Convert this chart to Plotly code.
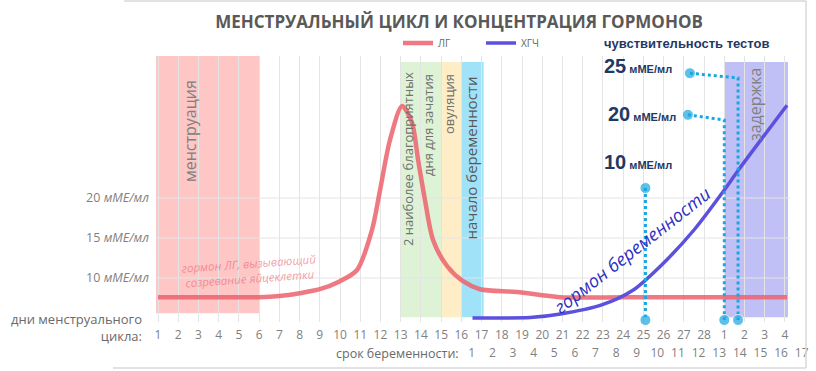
import plotly.graph_objects as go

# ---------------- data ----------------
day_ticks = list(range(1, 33))
day_labels = [str(d) for d in range(1, 29)] + ["1", "2", "3", "4"]
week_ticks = list(range(1, 18))
week_labels = [str(w) for w in week_ticks]

lh_x = [1, 2, 3, 4, 5, 6, 7, 8, 9, 10, 10.84, 11.58, 11.98, 12.47, 13.07, 13.56, 13.86, 14.2, 14.6,
        15.29, 16.08, 16.92, 18.75, 20.88, 24, 28, 32.1]
lh_y = [7.6, 7.6, 7.6, 7.6, 7.6, 7.6, 7.75, 8.1, 8.6, 9.6, 11.0, 16.0, 21.0, 27.25, 31.5, 29.4, 24.75, 19.75, 14.75,
        11.5, 9.6, 8.6, 8.25, 7.6, 7.6, 7.6, 7.6]

hcg_x = [16.55, 18.0, 19.4, 20.9, 22.9, 24.5, 25.85, 27.5, 29.0, 29.7, 32.1]
hcg_y = [5.0, 5.0, 5.05, 5.5, 6.6, 8.5, 11.5, 16.0, 21.0, 23.5, 31.6]

y_ticks = [10, 15, 20]
y_labels = ["10 <i>мМЕ/мл</i>", "15 <i>мМЕ/мл</i>", "20 <i>мМЕ/мл</i>"]

# test sensitivity guide lines (x in cycle days, y in concentration units)
t10_x = [25.1, 25.1]
t10_y = [21.25, 4.75]
t20_x = [27.2, 29.0, 29.0]
t20_y = [30.4, 29.75, 4.75]
t25_x = [27.3, 29.68, 29.68]
t25_y = [35.6, 35.0, 4.75]

# shaded periods: (start day, end day, bottom, top, colour)
bands = [
    (0.9, 6.0, 5.6, 37.75, "rgba(255,160,160,0.6)"),
    (13.0, 15.0, 5.1, 37.0, "rgba(200,235,185,0.6)"),
    (15.0, 16.0, 5.1, 37.0, "rgba(253,225,160,0.6)"),
    (16.0, 17.1, 5.1, 37.0, "rgba(120,215,245,0.7)"),
    (29.0, 32.15, 5.1, 37.0, "rgba(130,130,240,0.5)"),
]
grid_x_end = 32.25

# ---------------- layout helpers ----------------
W, H = 816, 371
L, R, T, B = 156, 10, 56, 27
PW = W - L - R
PH = H - T - B


def px(xp):
    return (xp - L) / PW


def py(yp):
    return (H - B - yp) / PH


FONT = "Open Sans"
GRAY = "#7f7f7f"
NAVY = "#1f3864"
CYAN = "#1aa6e0"
GRID = "#e4e4e4"

fig = go.Figure()

fig.add_trace(go.Scatter(x=lh_x, y=lh_y, mode="lines", name="ЛГ",
                         line=dict(color="rgba(236,98,108,0.85)", width=4.5, shape="spline", smoothing=0.8)))
fig.add_trace(go.Scatter(x=hcg_x, y=hcg_y, mode="lines", name="ХГЧ",
                         line=dict(color="rgb(92,80,222)", width=3.5, shape="spline", smoothing=0.8)))

for tx, ty in [(t10_x, t10_y), (t20_x, t20_y), (t25_x, t25_y)]:
    sizes = [11] + [0] * (len(tx) - 2) + [11]
    fig.add_trace(go.Scatter(x=tx, y=ty, mode="lines+markers", showlegend=False, cliponaxis=False,
                             line=dict(color=CYAN, width=3, dash="dot"),
                             marker=dict(color=CYAN, size=sizes)))

# invisible trace so that the pregnancy-week axis is drawn
fig.add_trace(go.Scatter(x=week_ticks, y=[None] * len(week_ticks), xaxis="x2", yaxis="y",
                         mode="markers", showlegend=False, hoverinfo="skip"))

shapes = []
for x0, x1, y0, y1, c in bands:
    shapes.append(dict(type="rect", xref="x", yref="y", x0=x0, x1=x1, y0=y0, y1=y1,
                       fillcolor=c, line=dict(width=0), layer="below"))
for yv in y_ticks:
    shapes.append(dict(type="line", xref="x", yref="y", x0=0.9, x1=grid_x_end, y0=yv, y1=yv,
                       line=dict(color=GRID, width=1), layer="below"))
# chart frame
FR = "#d9d9d9"
shapes.append(dict(type="line", xref="paper", yref="paper", x0=px(124), x1=px(806), y0=py(1), y1=py(1),
                   line=dict(color=FR, width=1.5)))
shapes.append(dict(type="line", xref="paper", yref="paper", x0=px(806), x1=px(806), y0=py(1), y1=py(368),
                   line=dict(color=FR, width=1.5)))
shapes.append(dict(type="line", xref="paper", yref="paper", x0=px(113), x1=px(806), y0=py(368), y1=py(368),
                   line=dict(color=FR, width=1.5)))

ann = []


def text(xp, yp, s, size, color=GRAY, angle=0, xanchor="center", yanchor="middle", align="center",
         family=FONT):
    ann.append(dict(x=px(xp), y=py(yp), xref="paper", yref="paper", text=s, showarrow=False,
                    textangle=angle, xanchor=xanchor, yanchor=yanchor, align=align,
                    font=dict(size=size, color=color, family=family)))


# vertical band texts
text(190, 78, "менструация", 16, "#808080", -90, yanchor="top")
text(408, 70, "2 наиболее благоприятных", 13, "#707070", -90, yanchor="top")
text(428, 72, "дня для зачатия", 13, "#707070", -90, yanchor="top")
text(449, 72, "овуляция", 13, "#707070", -90, yanchor="top")
text(470, 75, "начало беременности", 15, "#5a5a5a", -90, yanchor="top")
text(755, 65, "задержка", 16, "#808080", -90, yanchor="top")

# curve captions
text(249, 271, "<i>гормон ЛГ, вызывающий<br>созревание яйцеклетки</i>", 11.5, "rgba(232,96,108,0.6)", -4)
text(632, 250, "<i>гормон беременности</i>", 18, "#2f2fc0", -38)

# test sensitivity
text(602, 43, "<b>чувствительность тестов</b>", 13, NAVY, xanchor="left", family="Liberation Sans")
for xl, yl, v in [(602, 66, "25"), (606, 114, "20"), (602, 162, "10")]:
    text(xl, yl, "<b><span style='font-size:20px'>" + v + "</span> мМЕ/мл</b>", 11, NAVY,
         xanchor="left", family="Liberation Sans")

# axis captions
text(144, 327.5, "дни менструального<br>цикла:", 13, "#6a6a6a", xanchor="right", align="right")
text(461, 353, "срок беременности:", 12.5, "#6a6a6a", xanchor="right")

fig.update_layout(
    width=W, height=H,
    margin=dict(l=L, r=R, t=T, b=B, autoexpand=False),
    paper_bgcolor="white", plot_bgcolor="white",
    font=dict(family=FONT, color=GRAY),
    title=dict(text="<b>МЕНСТРУАЛЬНЫЙ ЦИКЛ И КОНЦЕНТРАЦИЯ ГОРМОНОВ</b>", xref="container", yref="container",
               x=459 / W, y=1 - 22 / H, xanchor="center", yanchor="middle",
               font=dict(size=17, color="#595959", family=FONT)),
    showlegend=True,
    legend=dict(orientation="h", x=px(398), y=py(43), xanchor="left", yanchor="middle",
                font=dict(size=10, color="#666666", family=FONT), bgcolor="rgba(0,0,0,0)",
                entrywidth=38, entrywidthmode="pixels", itemwidth=30),
    xaxis=dict(domain=[0, 1], range=[0.901, 33.04], tickmode="array", tickvals=day_ticks,
               ticktext=day_labels, showgrid=True, gridcolor=GRID, gridwidth=1, zeroline=False,
               showline=False, ticks="", ticklabelstandoff=4,
               tickfont=dict(size=12, color=GRAY, family=FONT)),
    xaxis2=dict(range=[-14.307, 17.209], anchor="free", position=0, overlaying="x",
                tickmode="array", tickvals=week_ticks, ticktext=week_labels, showgrid=False, zeroline=False,
                showline=False, ticks="", tickfont=dict(size=12, color=GRAY, family=FONT), side="bottom"),
    yaxis=dict(domain=[py(322), 1], range=[4.5, 37.75], tickmode="array", tickvals=y_ticks, ticktext=y_labels,
               showgrid=False, zeroline=False, showline=False, ticks="",
               ticklabelstandoff=6, tickfont=dict(size=12.5, color=GRAY, family=FONT)),
    shapes=shapes,
    annotations=ann,
)

fig.write_html("out.html")
